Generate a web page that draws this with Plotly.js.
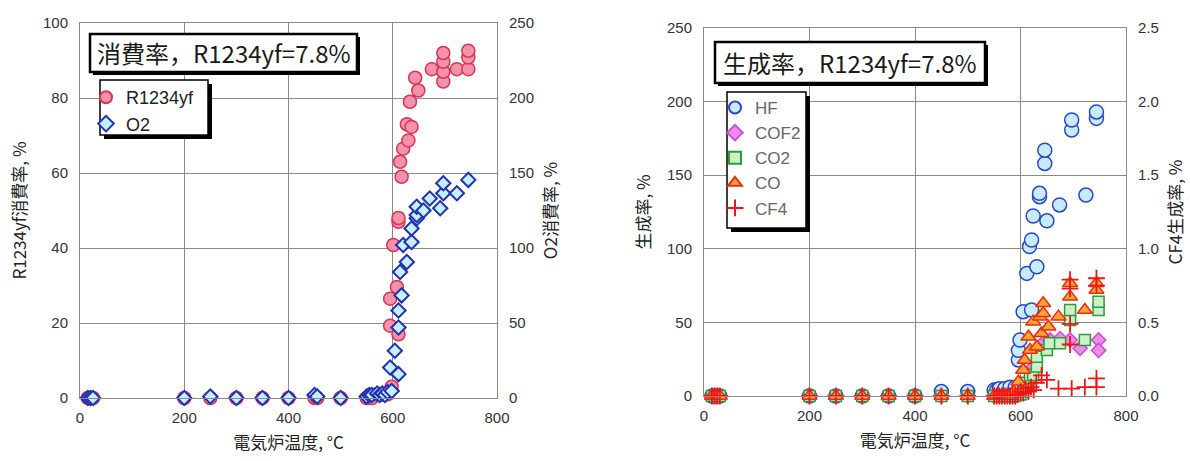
<!DOCTYPE html>
<html><head><meta charset="utf-8">
<script src="https://cdn.plot.ly/plotly-3.0.1.min.js"></script>
<style>html,body{margin:0;padding:0;background:#fff;}#chart{width:1190px;height:461px;}</style>
</head><body><div id="chart"></div>
<script>
// ---- Left chart: consumption rate ----
const r1234yfTemp = [15,20,25,200,250,300,350,400,450,455,500,550,555,560,570,580,590,598,
  595,595,601,608,611,611,611,614,617,620,627,630,633,636,643,649,675,697,697,697,697,723,745,745,745];
const r1234yfRate = [0,0,0,0,0,0,0,0,0,0,0,0,0,0,1,1,1,3,
  19.3,26.5,40.8,29.6,17,47,48,63,59,66.5,73,68.7,79,72.3,85.4,82,87.7,84.4,87,89.7,92,87.7,87.7,90.8,92.6];
const o2Temp = [15,20,25,200,250,300,350,400,450,455,500,550,555,560,570,575,580,585,590,
  598,595,611,604,611,611,617,614,627,620,636,636,646,646,646,659,671,691,697,697,723,745];
const o2Rate = [0,0,0,0,1,0,0,0,2,1,0,1,2,2,3,2,3,2,4,
  4.7,20.3,15.9,31.5,47,58.3,68.4,84,90.7,102,104,113,119.8,122,127.5,125,133,126.5,136.5,143.2,136.5,145.4];

// ---- Right chart: formation rate ----
const hfTemp = [15,20,25,30,200,250,300,350,400,450,500,550,555,560,570,580,590,
  596,596,599,605,621,612,631,617,621,624,650,636,636,674,646,646,724,697,697,744,744];
const hfRate = [0,0,0,0,0,0,0,0,0,3,3,4,4,5,5,6,6,
  24.5,31,38,57.3,58.4,83.3,87.8,101.5,106,122.3,119,135.4,137.7,129.8,158,167,136.5,180.7,187.5,188.6,193];
const cof2Temp = [15,20,25,30,200,250,300,350,400,450,500,550,560,570,580,590,
  600,610,615,625,635,643,656,675,694,713,748,748];
const cof2Rate = [0,0,0,0,0,0,0,0,0,0,0,0,0,0,0,0,
  2,5,10,20,30,36,38,39,38,32.4,38,31];
const co2Temp = [15,20,25,30,200,250,300,350,400,450,500,550,560,570,580,590,
  600,605,612,618,624,631,631,650,655,675,694,694,722,748,748];
const co2Rate = [0,0,0,0,0,0,0,0,0,0,0,0,0,0,0,0,
  1,3,9,12,14.3,20,26.7,31.2,35.8,35.8,51.6,58.4,38,58.4,64];
const coTemp = [15,20,25,30,200,250,300,350,400,450,500,550,555,560,565,570,575,580,
  587,596,605,608,618,631,615,640,624,653,637,643,643,672,694,694,722,744,744];
const coRate = [0,0,0,0,0,0,0,0,0,0,0,0,0,0,0,0,0,0,
  3,9.7,17.7,24.5,31.2,33.5,40.3,42.6,50.5,47,53.9,56.2,63,53.9,67.5,76.6,58.4,72,76.6];
const cf4Temp = [15,20,25,30,200,250,300,350,400,450,500,550,555,560,565,570,575,580,585,590,
  595,600,605,610,615,620,625,630,
  640,650,672,694,694,694,694,697,722,744,744,744,744];
const cf4Rate = [0,0,0,0,0,0,0,0,0,0,0,0,0,0,0,0,0,0,0,0,
  0.01,0.03,0.02,0.05,0.03,0.06,0.04,0.09,
  0.14,0.11,0.05,0.35,0.49,0.73,0.79,0.05,0.06,0.06,0.12,0.75,0.8];

const xTicks = [0,200,400,600,800];
const xTitle = '電気炉温度, °C';
const leftBoxText = '消費率，R1234yf=7.8%';
const rightBoxText = '生成率，R1234yf=7.8%';

// ---- layout helpers (pixel -> paper) ----
const W = 1190, H = 461, M = {l:80, r:64, t:23, b:63};
const PW = W - M.l - M.r, PH = H - M.t - M.b;
const px = x => (x - M.l) / PW;
const py = y => (H - M.b - y) / PH;

const FONT = '"Liberation Sans", Arial, "Noto Sans CJK JP", sans-serif';
const JFONT = '"Noto Sans CJK JP", "Liberation Sans", sans-serif';
const GRID = '#8a8a8a';

function mk(name, x, y, yaxis, xaxis, legend, marker) {
  return {type:'scatter', mode:'markers', name, x, y, xaxis, yaxis, legend, marker, cliponaxis:false};
}

const traces = [
  mk('R1234yf', r1234yfTemp, r1234yfRate, 'y', 'x', 'legend',
     {symbol:'circle', size:13, color:'#f492ad', line:{color:'#d83550', width:1.5}}),
  mk('O2', o2Temp, o2Rate, 'y2', 'x', 'legend',
     {symbol:'diamond', size:11, color:'#c6efff', line:{color:'#1f30b5', width:2}}),
  mk('HF', hfTemp, hfRate, 'y3', 'x2', 'legend2',
     {symbol:'circle', size:14, color:'#c8ecff', line:{color:'#2a46c8', width:1.5}}),
  mk('COF2', cof2Temp, cof2Rate, 'y3', 'x2', 'legend2',
     {symbol:'diamond', size:11, color:'#ea8ce8', line:{color:'#cf4ccf', width:1.5}}),
  mk('CO2', co2Temp, co2Rate, 'y3', 'x2', 'legend2',
     {symbol:'square', size:11, color:'#c9f2c9', line:{color:'#2f9a3c', width:1.5}}),
  mk('CO', coTemp, coRate, 'y3', 'x2', 'legend2',
     {symbol:'triangle-up', size:13, color:'#f7a630', line:{color:'#f02a12', width:1.5}}),
  mk('CF4', cf4Temp, cf4Rate, 'y4', 'x2', 'legend2',
     {symbol:'cross-thin-open', size:12, color:'#f01515', line:{color:'#f01515', width:1.8}})
];

const tickfont = {family: FONT, size: 15, color: '#333'};
const titlefont = {family: JFONT, size: 17, color: '#222'};

function xax(domain, anchor) {
  return {domain, anchor, range:[0,800], tickvals:xTicks, showgrid:true, gridcolor:GRID, gridwidth:1,
    showline:true, linecolor:GRID, linewidth:1, mirror:true, zeroline:false,
    ticks:'outside', ticklen:6, tickcolor:'rgba(0,0,0,0)', tickfont,
    title:{text:xTitle, font:{family:JFONT, size:17, color:'#222'}, standoff:12}};
}
function yax(domain, anchor, range, dtick, title, extra) {
  return Object.assign({domain, anchor, range, dtick, tick0:0, showgrid:true, gridcolor:GRID, gridwidth:1,
    showline:true, linecolor:GRID, linewidth:1, mirror:true, zeroline:false,
    ticks:'outside', ticklen:8, tickcolor:'rgba(0,0,0,0)', tickfont,
    title:{text:title, font:titlefont, standoff:12}}, extra || {});
}
function yover(over, anchor, range, dtick, title, extra) {
  return Object.assign({overlaying:over, side:'right', anchor, range, dtick, tick0:0, showgrid:false,
    showline:false, zeroline:false, ticks:'outside', ticklen:8, tickcolor:'rgba(0,0,0,0)', tickfont,
    title:{text:title, font:titlefont, standoff:12}}, extra || {});
}

const rDomX = [px(704), 1];
const rDomY = [py(396), py(28)];

function boxShapes(x0, y0, x1, y1, off, bw) {
  return [
    {type:'rect', xref:'paper', yref:'paper', layer:'above',
     x0:px(x0+off), x1:px(x1+off), y0:py(y1+off), y1:py(y0+off),
     fillcolor:'#000', line:{width:0}},
    {type:'rect', xref:'paper', yref:'paper', layer:'above',
     x0:px(x0), x1:px(x1), y0:py(y1), y1:py(y0),
     fillcolor:'#fff', line:{color:'#000', width:bw}}
  ];
}

const layout = {
  width: W, height: H, margin: M, paper_bgcolor:'#fff', plot_bgcolor:'#fff',
  font:{family: FONT},
  showlegend: true,
  xaxis: xax([0, px(497)], 'y'),
  yaxis: yax([0,1], 'x', [0,100], 20, 'R1234yf消費率, %'),
  yaxis2: yover('y', 'x', [0,250], 50, 'O2消費率, %'),
  xaxis2: xax(rDomX, 'y3'),
  yaxis3: yax(rDomY, 'x2', [0,250], 50, '生成率, %'),
  yaxis4: yover('y3', 'x2', [0,2.5], 0.5, 'CF4生成率, %', {tickformat:'.1f'}),
  legend: {x: px(86), y: py(79), xanchor:'left', yanchor:'top', bgcolor:'rgba(0,0,0,0)', borderwidth:0,
    font:{family: FONT, size:18, color:'#222'}, itemwidth:30, itemsizing:'constant', tracegroupgap:0},
  legend2: {x: px(715), y: py(90), xanchor:'left', yanchor:'top', bgcolor:'rgba(0,0,0,0)', borderwidth:0,
    font:{family: FONT, size:17, color:'#666'}, itemwidth:30, itemsizing:'constant', tracegroupgap:0},
  shapes: [].concat(
    boxShapes(90, 34, 357, 72, 3, 2.5),
    boxShapes(100, 80, 208, 135, 4, 1.5),
    boxShapes(715, 42, 985, 83, 3, 2.5),
    boxShapes(727, 92, 806, 228, 4, 1.5)
  ),
  annotations: [
    {xref:'paper', yref:'paper', x:px((90+357)/2), y:py((34+72)/2), xanchor:'center', yanchor:'middle',
     text:leftBoxText, showarrow:false, font:{family:JFONT, size:24, color:'#1a1a1a'}},
    {xref:'paper', yref:'paper', x:px((715+985)/2), y:py((42+83)/2), xanchor:'center', yanchor:'middle',
     text:rightBoxText, showarrow:false, font:{family:JFONT, size:24, color:'#1a1a1a'}}
  ]
};

Plotly.newPlot('chart', traces, layout, {displayModeBar:false, staticPlot:true});
</script>
</body></html>
